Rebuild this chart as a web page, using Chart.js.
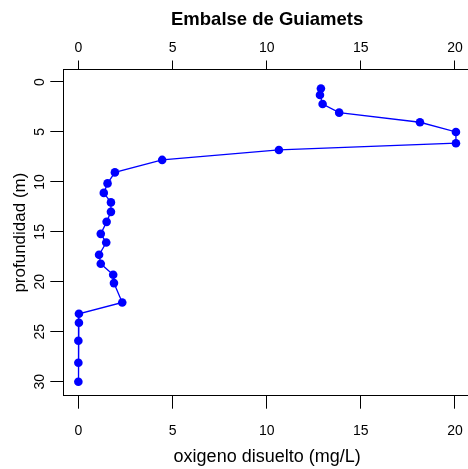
<!DOCTYPE html>
<html lang="es">
<head>
  <meta charset="UTF-8" />
  <title>Embalse de Guiamets</title>
  <script src="https://cdn.jsdelivr.net/npm/chart.js"></script>
  <style>
    html, body {
      margin: 0;
      padding: 0;
      background: #fff;
      overflow: hidden;
    }

    #perfil {
      display: block;
    }
  </style>
</head>
<body>
  <!-- a bit wider than the window: the plot box runs past the right edge -->
  <canvas id="perfil" width="474" height="469"></canvas>

  <script>
    // oxygen (mg/L) and depth (m)
    const oxigeno = [12.88, 12.83, 12.97, 13.85, 18.14, 20.05, 20.05, 10.65, 4.45, 1.94,
                     1.55, 1.35, 1.73, 1.73, 1.5, 1.19, 1.48, 1.1, 1.19, 1.85,
                     1.89, 2.33, 0.03, 0.03, 0, 0, 0];
    const profundidad = [0.65, 1.3, 2.2, 3.07, 4.03, 5.0, 6.13, 6.8, 7.8, 9.05,
                         10.15, 11.1, 12.05, 13.0, 14.0, 15.2, 16.07, 17.3, 18.2, 19.3,
                         20.13, 22.07, 23.2, 24.1, 25.9, 28.1, 30.0];
    const xTicks = [0, 5, 10, 15, 20];
    const yTicks = [0, 5, 10, 15, 20, 25, 30];

    const fontFam = "'Liberation Sans', Arial, Helvetica, sans-serif";
    const puntos = oxigeno.map((o, i) => ({ x: o, y: profundidad[i] }));

    const fixTicks = list => scale => { scale.ticks = list.map(v => ({ value: v })); };

    // tick padding is kept at 0 (it adds right padding to the layout);
    // the gap to the axis line comes from a tall line height instead
    new Chart(document.getElementById('perfil'), {
      type: 'scatter',
      data: {
        datasets: [{
          data: puntos,
          showLine: true,
          borderColor: '#0000ff',
          borderWidth: 1.3,
          backgroundColor: '#0000ff',
          pointRadius: 4.3,
          pointBorderWidth: 0,
          pointHoverRadius: 4.3
        }]
      },
      options: {
        responsive: false,
        animation: false,
        layout: { autoPadding: false, padding: { left: 0, right: 3, top: 0, bottom: 0 } },
        plugins: {
          legend: { display: false },
          tooltip: { enabled: false }
        },
        scales: {
          x: {
            type: 'linear',
            position: 'bottom',
            min: -0.8,
            max: 20.85,
            afterBuildTicks: fixTicks(xTicks),
            afterFit: s => { s.height = 73.3; },
            grid: { drawOnChartArea: false, tickLength: 13, color: '#000', tickWidth: 1 },
            border: { display: true, color: '#000', width: 1 },
            ticks: { color: '#000', font: { family: fontFam, size: 14, lineHeight: '44.6px' }, padding: 0, maxRotation: 0 },
            title: {
              display: true,
              text: 'oxigeno disuelto (mg/L)',
              color: '#000',
              font: { family: fontFam, size: 18 },
              padding: { top: 0, bottom: 1.5 }
            }
          },
          x2: {
            type: 'linear',
            position: 'top',
            min: -0.8,
            max: 20.85,
            afterBuildTicks: fixTicks(xTicks),
            afterFit: s => { s.height = 69.5; },
            grid: { drawOnChartArea: false, tickLength: 9, color: '#000', tickWidth: 1 },
            border: { display: true, color: '#000', width: 1 },
            ticks: { color: '#000', font: { family: fontFam, size: 14, lineHeight: '24.4px' }, padding: 0, maxRotation: 0 },
            title: {
              display: true,
              text: 'Embalse de Guiamets',
              color: '#000',
              font: { family: fontFam, size: 18.5, weight: 'bold' },
              padding: { top: 8.5, bottom: 0 }
            }
          },
          y: {
            type: 'linear',
            position: 'left',
            reverse: true,
            min: -1.25,
            max: 31.4,
            afterBuildTicks: fixTicks(yTicks),
            afterFit: s => { s.width = 63.3; },
            grid: { drawOnChartArea: false, tickLength: 13, color: '#000', tickWidth: 1 },
            border: { display: true, color: '#000', width: 1 },
            ticks: {
              color: '#000',
              font: { family: fontFam, size: 14 },
              padding: 2,
              minRotation: 90,
              maxRotation: 90,
              crossAlign: 'center'
            },
            title: {
              display: true,
              text: 'profundidad (m)',
              color: '#000',
              font: { family: fontFam, size: 17 },
              padding: { top: 9.8, bottom: 0 }
            }
          }
        }
      }
    });
  </script>
</body>
</html>
